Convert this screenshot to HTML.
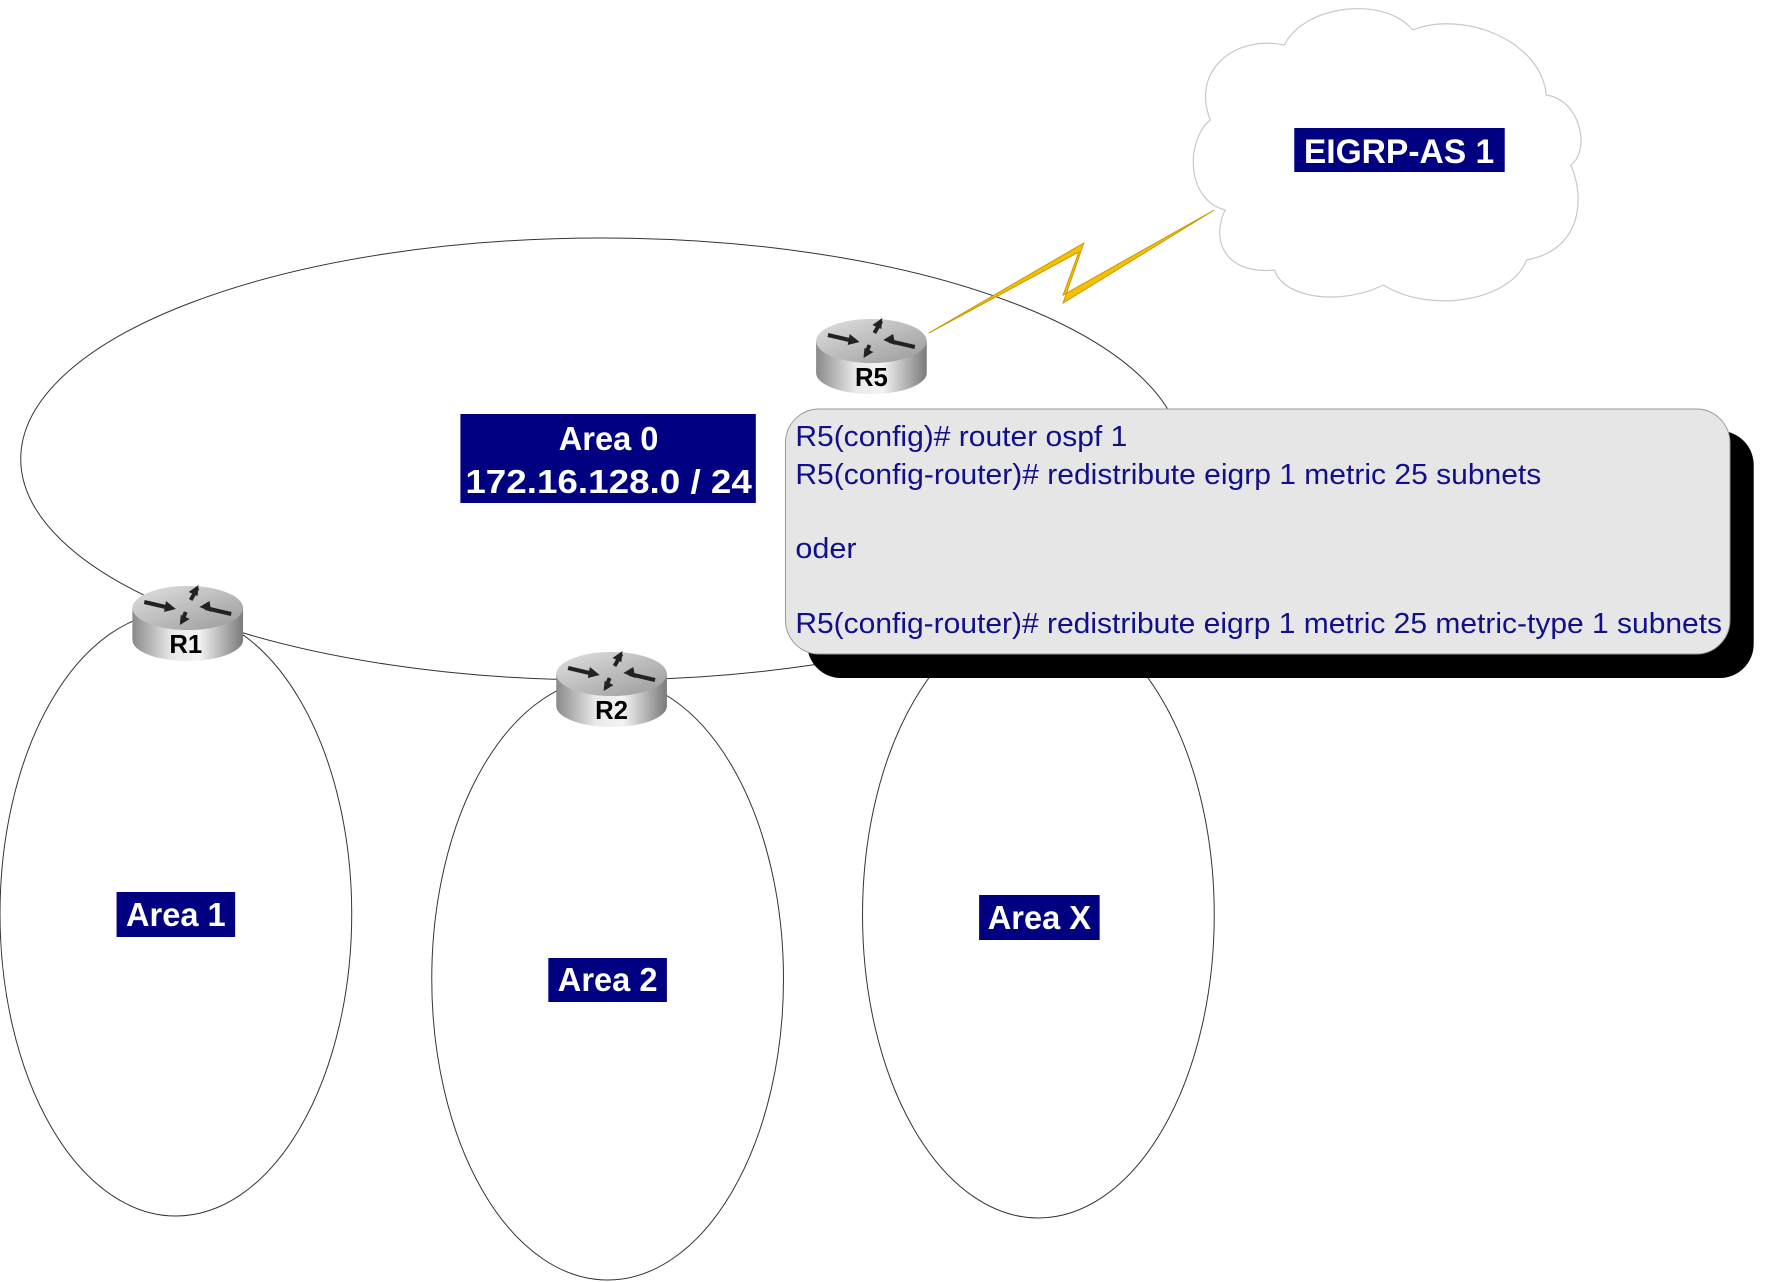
<!DOCTYPE html>
<html><head><meta charset="utf-8"><style>
html,body{margin:0;padding:0;background:#fff;}
svg{display:block;}
text{font-family:"Liberation Sans",Arial,sans-serif;}
</style></head><body>
<svg width="1778" height="1282" viewBox="0 0 1778 1282" xmlns="http://www.w3.org/2000/svg">
<defs>
<linearGradient id="cyl" x1="0" x2="1" y1="0" y2="0">
<stop offset="0" stop-color="#8a8a8a"/><stop offset="0.35" stop-color="#e8e8e8"/><stop offset="0.6" stop-color="#f4f4f4"/><stop offset="1" stop-color="#7a7a7a"/>
</linearGradient>
<linearGradient id="top" x1="0" x2="1" y1="0" y2="1">
<stop offset="0" stop-color="#e0e0e0"/><stop offset="1" stop-color="#9a9a9a"/>
</linearGradient>
<g id="router">
<path d="M-56,-14 L-56,18 A56,21 0 0 0 56,18 L56,-14 Z" fill="url(#cyl)"/>
<ellipse cx="0" cy="-14" rx="56" ry="22" fill="url(#top)"/>
<g stroke="#222" stroke-width="4" fill="none">
<path d="M-44,-20 L-18,-14"/><path d="M44,-8 L18,-14"/><path d="M10,-34 L3,-22"/><path d="M-6,0 L-2,-10"/>
</g>
<g fill="#222"><path d="M-12,-13 l-10,-8 l-2,11z"/><path d="M12,-15 l10,-6 l2,11z"/><path d="M11,-37 l-10,7 l9,4z"/><path d="M-8,3 l10,-6 l-9,-4z"/></g>
</g>
</defs>
<g transform="scale(0.988,1)">
<g fill="none" stroke="#333" stroke-width="1">
<ellipse cx="609" cy="459" rx="588" ry="221"/>
<ellipse cx="178" cy="914" rx="178" ry="302"/>
<ellipse cx="615" cy="979" rx="178" ry="301"/>
<ellipse cx="1051" cy="915" rx="178" ry="303"/>
</g>

<path d="M1240,210 C1200,200 1200,140 1225,120 C1205,70 1250,35 1300,45 C1320,5 1400,-5 1430,30 C1480,10 1560,40 1565,95 C1600,100 1610,150 1590,165 C1605,200 1600,250 1545,260 C1530,300 1450,315 1400,285 C1360,305 1300,300 1290,270 C1240,275 1225,240 1240,210 Z" fill="#fff" stroke="#c8c8c8" stroke-width="1.2"/>
<rect x="1310" y="128" width="213" height="44" fill="#000080"/>
<text x="1416" y="163" text-anchor="middle" fill="#fff" font-weight="bold" font-size="34">EIGRP-AS 1</text>

<polygon points="940,333 1097,243 1076,303 1229,210 1076,295 1092,252" fill="#f5c000" stroke="#c89600" stroke-width="1"/>

<g transform="translate(882,355)"><use href="#router"/><text x="0" y="31" text-anchor="middle" font-weight="bold" font-size="26" fill="#000">R5</text></g>
<g transform="translate(190,622)"><use href="#router"/><text x="-2" y="31" text-anchor="middle" font-weight="bold" font-size="26" fill="#000">R1</text></g>
<g transform="translate(619,688)"><use href="#router"/><text x="0" y="31" text-anchor="middle" font-weight="bold" font-size="26" fill="#000">R2</text></g>

<rect x="466" y="414" width="299" height="89" fill="#000080"/>
<text x="616" y="450" text-anchor="middle" fill="#fff" font-weight="bold" font-size="33">Area 0</text>
<text x="616" y="493" text-anchor="middle" fill="#fff" font-weight="bold" font-size="33" textLength="290" lengthAdjust="spacingAndGlyphs">172.16.128.0 / 24</text>

<rect x="817" y="431" width="958" height="247" rx="34" fill="#000"/>
<rect x="795" y="409" width="956" height="245" rx="34" fill="#e6e6e6" stroke="#999" stroke-width="1"/>
<g fill="#10108a" font-size="29">
<text x="805" y="446" textLength="336" lengthAdjust="spacingAndGlyphs">R5(config)# router ospf 1</text>
<text x="805" y="484" textLength="755" lengthAdjust="spacingAndGlyphs">R5(config-router)# redistribute eigrp 1 metric 25 subnets</text>
<text x="805" y="558" textLength="62" lengthAdjust="spacingAndGlyphs">oder</text>
<text x="805" y="633" textLength="938" lengthAdjust="spacingAndGlyphs">R5(config-router)# redistribute eigrp 1 metric 25 metric-type 1 subnets</text>
</g>

<rect x="118" y="892" width="120" height="45" fill="#000080"/>
<text x="178" y="926" text-anchor="middle" fill="#fff" font-weight="bold" font-size="33">Area 1</text>
<rect x="555" y="958" width="120" height="44" fill="#000080"/>
<text x="615" y="991" text-anchor="middle" fill="#fff" font-weight="bold" font-size="33">Area 2</text>
<rect x="991" y="895" width="122" height="45" fill="#000080"/>
<text x="1052" y="929" text-anchor="middle" fill="#fff" font-weight="bold" font-size="33">Area X</text>
</g>
</svg>
</body></html>
